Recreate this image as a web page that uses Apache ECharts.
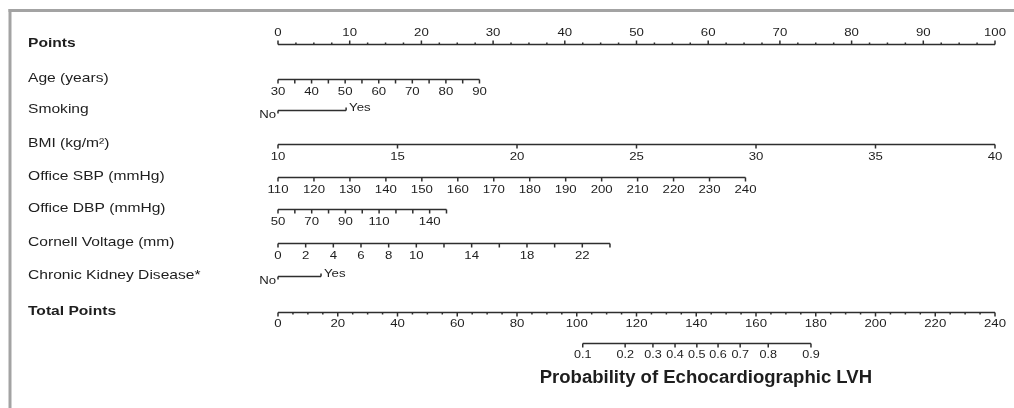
<!DOCTYPE html>
<html><head><meta charset="utf-8">
<script src="https://cdn.jsdelivr.net/npm/echarts@6/dist/echarts.min.js"></script>
<style>html,body{margin:0;padding:0;background:#fff}#c{width:1014px;height:408px}</style>
</head><body><div id="c"></div>
<script>
// ---------------- data ----------------
const variableNames = ['Points', 'Age (years)', 'Smoking', 'BMI (kg/m²)', 'Office SBP (mmHg)',
  'Office DBP (mmHg)', 'Cornell Voltage (mm)', 'Chronic Kidney Disease*', 'Total Points'];
const boldNames = ['Points', 'Total Points'];

const pointsTicks = [0, 10, 20, 30, 40, 50, 60, 70, 80, 90, 100];

const ageTicks = [30, 35, 40, 45, 50, 55, 60, 65, 70, 75, 80, 85, 90];
const ageLabels = [30, 40, 50, 60, 70, 80, 90];
const agePoints = [0, 28.1];

const smokingLevels = ['No', 'Yes'];
const smokingPoints = [0, 9.5];

const bmiTicks = [10, 15, 20, 25, 30, 35, 40];
const bmiLabels = [10, 15, 20, 25, 30, 35, 40];
const bmiPoints = [0, 100];

const sbpTicks = [110, 120, 130, 140, 150, 160, 170, 180, 190, 200, 210, 220, 230, 240];
const sbpLabels = [110, 120, 130, 140, 150, 160, 170, 180, 190, 200, 210, 220, 230, 240];
const sbpPoints = [0, 65.2];

const dbpTicks = [50, 60, 70, 80, 90, 100, 110, 120, 130, 140, 150];
const dbpLabels = [50, 70, 90, 110, 140];
const dbpPoints = [0, 23.5];

const cornellTicks = [0, 2, 4, 6, 8, 10, 12, 14, 16, 18, 20, 22, 24];
const cornellLabels = [0, 2, 4, 6, 8, 10, 14, 18, 22];
const cornellPoints = [0, 46.3];

const ckdLevels = ['No', 'Yes'];
const ckdPoints = [0, 6.0];

const totalTicks = [0, 20, 40, 60, 80, 100, 120, 140, 160, 180, 200, 220, 240];

const probTicks = [0.1, 0.2, 0.3, 0.4, 0.5, 0.6, 0.7, 0.8, 0.9];
const probTotalPoints = [102, 116.2, 125.5, 132.9, 140.2, 147.3, 154.7, 164.1, 178.4];
const probTitle = 'Probability of Echocardiographic LVH';

// ---------------- layout / style ----------------
const L = {
  rowY: [44.5, 79.5, 110.5, 144.5, 177.5, 209.5, 243.5, 276.5, 312.5],
  probY: 343.5, titleY: 378,
  nameX: 28,
  gridLeft: 278, gridRight: 19,
  pointsMinorDiv: 4, totalMinorDiv: 4,
  majorLen: 4, minorLen: 2, labelGap: 12,
  stroke: '#2e2e2e', lw: 1.5, text: '#1e1e1e',
  font: '"Liberation Sans", Arial, Helvetica, sans-serif',
  nameSize: 13, tickSize: 11, probSize: 10.5, titleSize: 18,
  sx: 1.2, titleShift: 9
};

// helpers
function linMap(ticks, pts) {
  const a = ticks[0], b = ticks[ticks.length - 1];
  return v => pts[0] + (v - a) / (b - a) * (pts[1] - pts[0]);
}
function scaleRow(idx, ticks, labels, pts) {
  const f = linMap(ticks, pts);
  return { kind: 'scale', idx, ticks: ticks.map(v => ({ x: f(v), label: labels.indexOf(v) >= 0 ? String(v) : null })) };
}
function binRow(idx, levels, pts) {
  return { kind: 'bin', idx, levels, pts };
}

const rowsA = [
  { kind: 'points', idx: 0, ticks: pointsTicks },
  scaleRow(1, ageTicks, ageLabels, agePoints),
  binRow(2, smokingLevels, smokingPoints),
  scaleRow(3, bmiTicks, bmiLabels, bmiPoints),
  scaleRow(4, sbpTicks, sbpLabels, sbpPoints),
  scaleRow(5, dbpTicks, dbpLabels, dbpPoints),
  scaleRow(6, cornellTicks, cornellLabels, cornellPoints),
  binRow(7, ckdLevels, ckdPoints)
];
const rowsB = [
  { kind: 'total', idx: 8, ticks: totalTicks },
  { kind: 'prob', ticks: probTotalPoints.map((t, i) => ({ x: t, label: String(probTicks[i]) })) }
];

function txt(x, y, s, o) {
  o = o || {};
  return {
    type: 'text', x: x, y: y, scaleX: o.sx || L.sx,
    style: {
      text: s, x: 0, y: 0, fill: L.text, fontFamily: L.font,
      fontSize: o.size || L.tickSize, fontWeight: o.bold ? 'bold' : 'normal',
      align: o.align || 'center', verticalAlign: 'middle'
    }
  };
}
function ln(x1, y1, x2, y2, w) {
  return { type: 'line', shape: { x1, y1, x2, y2 }, style: { stroke: L.stroke, lineWidth: w || L.lw, lineCap: 'butt' } };
}
function nameLabel(idx) {
  const n = variableNames[idx];
  return txt(L.nameX, L.rowY[idx] - 1, n, { align: 'left', size: L.nameSize, bold: boldNames.indexOf(n) >= 0 });
}
function px(api, v) { return api.coord([v, 0])[0]; }

function renderRow(r, api) {
  const ch = [];
  if (r.kind === 'points' || r.kind === 'total') {
    const y = L.rowY[r.idx];
    const above = r.kind === 'points';
    const dir = above ? -1 : 1;
    const t = r.ticks, div = above ? L.pointsMinorDiv : L.totalMinorDiv;
    ch.push(nameLabel(r.idx));
    ch.push(ln(px(api, t[0]), y, px(api, t[t.length - 1]), y));
    for (let i = 0; i < t.length; i++) {
      const x = px(api, t[i]);
      ch.push(ln(x, y, x, y + dir * L.majorLen));
      ch.push(txt(x, y + dir * (above ? 11.5 : L.labelGap - 1), String(t[i])));
      if (i < t.length - 1) {
        for (let k = 1; k < div; k++) {
          const xm = px(api, t[i] + (t[i + 1] - t[i]) * k / div);
          ch.push(ln(xm, y, xm, y + dir * L.minorLen));
        }
      }
    }
  } else if (r.kind === 'scale' || r.kind === 'prob') {
    const y = r.kind === 'prob' ? L.probY : L.rowY[r.idx];
    if (r.kind === 'scale') ch.push(nameLabel(r.idx));
    const t = r.ticks;
    ch.push(ln(px(api, t[0].x), y, px(api, t[t.length - 1].x), y));
    t.forEach(tk => {
      const x = px(api, tk.x);
      ch.push(ln(x, y, x, y + L.majorLen));
      if (tk.label) ch.push(txt(x, y + L.labelGap, tk.label, { size: r.kind === 'prob' ? L.probSize : L.tickSize }));
    });
    if (r.kind === 'prob') {
      const xc = (px(api, t[0].x) + px(api, t[t.length - 1].x)) / 2;
      ch.push(txt(xc + L.titleShift, L.titleY, probTitle, { size: L.titleSize, bold: true, sx: 1.03 }));
    }
  } else if (r.kind === 'bin') {
    const y = L.rowY[r.idx];
    ch.push(nameLabel(r.idx));
    const x0 = px(api, r.pts[0]), x1 = px(api, r.pts[1]);
    ch.push(ln(x0, y, x1, y));
    ch.push(ln(x0, y, x0, y + 3));
    ch.push(ln(x1, y, x1, y - 3));
    ch.push(txt(x0 - 2, y + 4, r.levels[0], { align: 'right' }));
    ch.push(txt(x1 + 3, y - 2.5, r.levels[1], { align: 'left' }));
  }
  return { type: 'group', children: ch };
}

const chart = echarts.init(document.getElementById('c'), null, { renderer: 'canvas' });
chart.setOption({
  animation: false,
  backgroundColor: '#fff',
  grid: { left: L.gridLeft, right: L.gridRight, top: 0, bottom: 0 },
  xAxis: [
    { type: 'value', min: 0, max: 100, show: false },
    { type: 'value', min: 0, max: 240, show: false }
  ],
  yAxis: { type: 'value', min: 0, max: 408, inverse: true, show: false },
  graphic: [
    { type: 'line', shape: { x1: 8.5, y1: 10.5, x2: 1014, y2: 10.5 }, style: { stroke: '#a3a3a3', lineWidth: 3 } },
    { type: 'line', shape: { x1: 10, y1: 9, x2: 10, y2: 408 }, style: { stroke: '#a3a3a3', lineWidth: 3 } }
  ],
  series: [
    {
      type: 'custom', xAxisIndex: 0, yAxisIndex: 0, silent: true,
      data: rowsA.map((r, i) => [0, 100 + i]),
      renderItem: (params, api) => renderRow(rowsA[params.dataIndex], api)
    },
    {
      type: 'custom', xAxisIndex: 1, yAxisIndex: 0, silent: true,
      data: rowsB.map((r, i) => [0, 300 + i]),
      renderItem: (params, api) => renderRow(rowsB[params.dataIndex], api)
    }
  ]
});
</script>
</body></html>
